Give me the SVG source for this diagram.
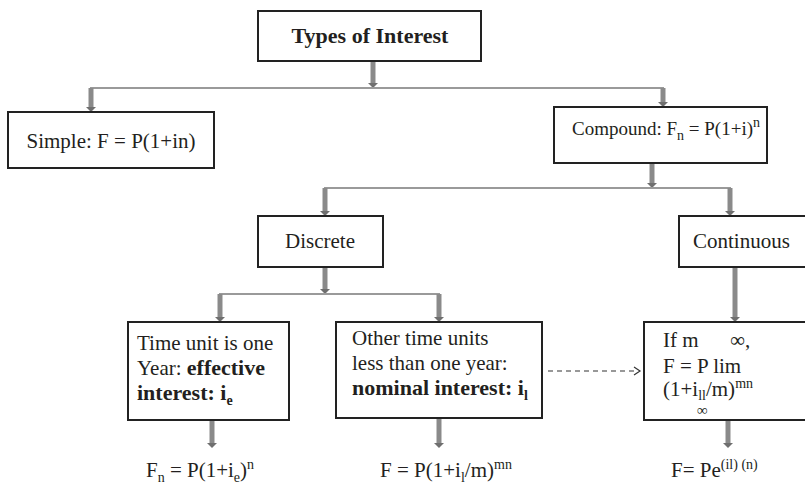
<svg xmlns="http://www.w3.org/2000/svg" width="805" height="484" viewBox="0 0 805 484">
<style>
  .box { fill: #ffffff; stroke: #222222; stroke-width: 2; }
  .t { font-family: "Liberation Serif", "Times New Roman", serif; font-size: 21px; fill: #231f20; }
  .b { font-weight: bold; font-size: 22px; }
  .s { font-size: 14px; }
  .hl { stroke: #9a9a9a; stroke-width: 2; fill: none; }
  .ar { stroke: #8a8a8a; stroke-width: 5; fill: none; marker-end: url(#head); }
  .dash { stroke: #333333; stroke-width: 1.2; stroke-dasharray: 5 4; fill: none; }
  .chev { stroke: #333333; stroke-width: 1.2; fill: none; }
</style>
<defs>
  <marker id="head" markerUnits="userSpaceOnUse" viewBox="0 0 5 10" markerWidth="5" markerHeight="10" refX="0" refY="5" orient="auto">
    <path d="M0,0 L5,5 L0,10 z" fill="#6f6f6f"/>
  </marker>
</defs>
<rect width="805" height="484" fill="#ffffff"/>

<g id="connectors">
  <line class="ar" x1="373" y1="62" x2="373" y2="83"/>
  <polyline class="hl" points="91,112 91,88 663,88 663,107"/>
  <line class="ar" x1="91" y1="88" x2="91" y2="107"/>
  <line class="ar" x1="663" y1="88" x2="663" y2="102"/>
  <line class="ar" x1="652" y1="164" x2="652" y2="183"/>
  <polyline class="hl" points="325,216 325,188 730,188 730,216"/>
  <line class="ar" x1="325" y1="188" x2="325" y2="211"/>
  <line class="ar" x1="730" y1="188" x2="730" y2="211"/>
  <line class="ar" x1="325" y1="268" x2="325" y2="289"/>
  <polyline class="hl" points="220,322 220,294 439,294 439,322"/>
  <line class="ar" x1="220" y1="294" x2="220" y2="317"/>
  <line class="ar" x1="439" y1="294" x2="439" y2="317"/>
  <line class="ar" x1="735" y1="268" x2="735" y2="317"/>
  <line class="ar" x1="212" y1="421" x2="212" y2="443"/>
  <line class="ar" x1="439" y1="419" x2="439" y2="443"/>
  <line class="ar" x1="728" y1="421" x2="728" y2="443"/>
  <line class="dash" x1="548" y1="371" x2="638" y2="371"/>
  <polyline class="chev" points="634,367 640,371 634,375"/>
</g>

<g id="types">
  <rect class="box" x="258" y="11" width="223" height="50"/>
  <text class="t b" x="370" y="43" text-anchor="middle">Types of Interest</text>
</g>

<g id="simple">
  <rect class="box" x="8" y="112" width="206" height="56"/>
  <text class="t" x="111" y="148" text-anchor="middle">Simple: F = P(1+in)</text>
</g>

<g id="compound">
  <rect class="box" x="554" y="107" width="213" height="56"/>
  <text class="t" x="572" y="135" style="font-size:19px">Compound: F<tspan class="s" dy="5">n</tspan><tspan dy="-5"> = P(1+i)</tspan><tspan class="s" dy="-8">n</tspan></text>
</g>

<g id="discrete">
  <rect class="box" x="258" y="216" width="125" height="51"/>
  <text class="t" x="320" y="248" text-anchor="middle">Discrete</text>
</g>

<g id="continuous">
  <rect class="box" x="679" y="216" width="140" height="51"/>
  <text class="t" x="693" y="248">Continuous</text>
</g>

<g id="effective">
  <rect class="box" x="128" y="322" width="161" height="98"/>
  <text class="t" x="137" y="350">Time unit is one</text>
  <text class="t" x="137" y="375">Year: <tspan class="b">effective</tspan></text>
  <text class="t b" x="137" y="400">interest: i<tspan class="s" dy="5">e</tspan></text>
</g>

<g id="nominal">
  <rect class="box" x="336" y="322" width="206" height="96"/>
  <text class="t" x="352" y="345">Other time units</text>
  <text class="t" x="352" y="370">less than one year:</text>
  <text class="t b" x="352" y="395">nominal interest: i<tspan class="s" dy="5">l</tspan></text>
</g>

<g id="continuous-formula">
  <rect class="box" x="644" y="322" width="170" height="98"/>
  <text class="t" x="663" y="347">If m</text>
  <text class="t" x="730" y="347">∞,</text>
  <text class="t" x="663" y="373">F = P lim</text>
  <text class="t" x="663" y="396">(1+i<tspan class="s" dy="4">ll</tspan><tspan dy="-4">/m)</tspan><tspan class="s" dy="-8">mn</tspan></text>
  <text class="t" x="697" y="415" style="font-size:15px">∞</text>
</g>

<g id="result-effective">
  <text class="t" x="200" y="477" text-anchor="middle">F<tspan class="s" dy="5">n</tspan><tspan dy="-5"> = P(1+i</tspan><tspan class="s" dy="5">e</tspan><tspan dy="-5">)</tspan><tspan class="s" dy="-8">n</tspan></text>
</g>

<g id="result-nominal">
  <text class="t" x="446" y="477" text-anchor="middle">F = P(1+i<tspan class="s" dy="5">l</tspan><tspan dy="-5">/m)</tspan><tspan class="s" dy="-8">mn</tspan></text>
</g>

<g id="result-continuous">
  <text class="t" x="671" y="477">F= Pe<tspan class="s" dy="-8">(il) (n)</tspan></text>
</g>
</svg>
